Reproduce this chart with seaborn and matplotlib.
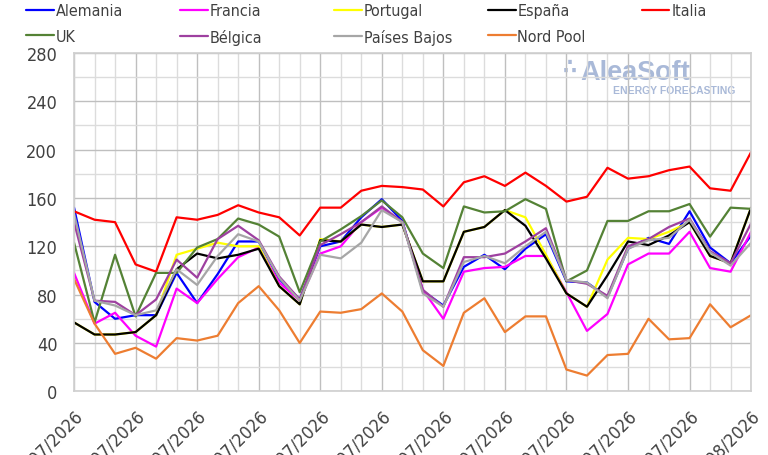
import pandas as pd
import matplotlib
matplotlib.use("Agg")
import matplotlib.pyplot as plt
import matplotlib.dates as mdates
from matplotlib import font_manager
from matplotlib.ticker import MultipleLocator
import seaborn as sns

# fechas diarias
dates = pd.date_range("2026-07-01", periods=34, freq="D")

alemania = [152, 74, 60, 63, 63, 98, 73, 97, 124, 124, 93, 76, 120, 124, 144, 159,
            141, 83, 71, 103, 113, 101, 118, 130, 91, 90, 78, 118, 127, 122, 149, 119, 106, 129]
francia = [98, 56, 65, 46, 37, 85, 73, 93, 111, 119, 90, 75, 114, 120, 140, 152,
           140, 84, 60, 99, 102, 103, 112, 112, 82, 50, 64, 105, 114, 114, 132, 102, 99, 132]
portugal = [57, 47, 47, 49, 63, 113, 118, 123, 120, 120, 87, 72, 126, 124, 138, 136,
            138, 91, 91, 132, 136, 150, 144, 113, 81, 70, 109, 127, 126, 132, 140, 112, 106, 152]
espana = [57, 47, 47, 49, 63, 101, 114, 110, 113, 118, 87, 72, 125, 124, 138, 136,
          138, 91, 91, 132, 136, 150, 137, 110, 81, 70, 96, 124, 121, 129, 140, 112, 106, 152]
italia = [149, 142, 140, 105, 99, 144, 142, 146, 154, 148, 144, 129, 152, 152, 166, 170,
          169, 167, 153, 173, 178, 170, 181, 170, 157, 161, 185, 176, 178, 183, 186, 168, 166, 198]
uk = [123, 57, 113, 62, 98, 98, 119, 126, 143, 138, 128, 82, 124, 134, 145, 158,
      144, 114, 102, 153, 148, 149, 159, 151, 91, 100, 141, 141, 149, 149, 155, 128, 152, 151]
belgica = [140, 75, 74, 63, 76, 109, 94, 126, 137, 125, 95, 76, 121, 130, 140, 153,
           140, 84, 70, 111, 111, 114, 124, 135, 92, 89, 79, 120, 126, 136, 143, 116, 106, 139]
paises_bajos = [147, 75, 71, 63, 67, 101, 88, 112, 130, 124, 94, 75, 113, 110, 123, 150,
                140, 81, 70, 107, 112, 106, 120, 132, 92, 90, 77, 118, 125, 127, 142, 115, 104, 123]
nord_pool = [93, 56, 31, 36, 27, 44, 42, 46, 73, 87, 67, 40, 66, 65, 68, 81,
             66, 34, 21, 65, 77, 49, 62, 62, 18, 13, 30, 31, 60, 43, 44, 72, 53, 63]

series = {
    "Alemania": alemania,
    "Francia": francia,
    "Portugal": portugal,
    "España": espana,
    "Italia": italia,
    "UK": uk,
    "Bélgica": belgica,
    "Países Bajos": paises_bajos,
    "Nord Pool": nord_pool,
}
colores = {
    "Alemania": "#0000ff",
    "Francia": "#ff00ff",
    "Portugal": "#ffff00",
    "España": "#000000",
    "Italia": "#ff0000",
    "UK": "#548235",
    "Bélgica": "#9e40a0",
    "Países Bajos": "#a6a6a6",
    "Nord Pool": "#ed7d31",
}

df = pd.DataFrame(series, index=dates).reset_index(names="fecha")
df = df.melt(id_vars="fecha", var_name="mercado", value_name="precio")

# buscar una fuente estrecha si existe
narrow = None
for f in font_manager.fontManager.ttflist:
    n = f.name.lower()
    if "narrow" in n or "condensed" in n:
        narrow = f.name
        break
    if str(f.stretch) in ("condensed", "semi-condensed", "extra-condensed") and f.weight in (400, "normal", "regular"):
        narrow = f
        break

sns.set_theme(style="white")
if isinstance(narrow, str):
    plt.rcParams["font.family"] = [narrow, "Liberation Sans", "DejaVu Sans"]
    fs_leg, fs_tick = 11.5, 13
elif narrow is not None:
    plt.rcParams["font.family"] = [narrow.name, "DejaVu Sans"]
    plt.rcParams["font.stretch"] = narrow.stretch
    fs_leg, fs_tick = 11.5, 13
else:
    plt.rcParams["font.family"] = ["Liberation Sans", "DejaVu Sans"]
    fs_leg, fs_tick = 10.5, 12

fig = plt.figure(figsize=(7.68, 4.56), dpi=100)
ax = fig.add_axes([0.0964, 0.1397, 0.8816, 0.7419])

sns.lineplot(data=df, x="fecha", y="precio", hue="mercado", palette=colores,
             hue_order=list(series.keys()), linewidth=1.6, ax=ax)

# leyenda: cinco columnas de ancho fijo, como en Excel
handles, labels = ax.get_legend_handles_labels()
ax.get_legend().remove()
for c in range(5):
    idx = [i for i in (c, c + 5) if i < len(labels)]
    fig.legend([handles[i] for i in idx], [labels[i] for i in idx],
               loc="upper left", bbox_to_anchor=((12 + c * 153.8) / 768, 1.022),
               frameon=False, fontsize=fs_leg, handlelength=1.74, handletextpad=0.12,
               labelspacing=0.66, labelcolor="#404040")

ax.set_xlim(dates[0], dates[-1])
ax.set_ylim(0, 280)
ax.yaxis.set_major_locator(MultipleLocator(40))
ax.yaxis.set_minor_locator(MultipleLocator(20))
ax.set_xticks(dates[::3])
ax.set_xticks(dates, minor=True)
ax.xaxis.set_major_formatter(mdates.DateFormatter("%d/%m/%Y"))

ax.grid(which="major", color="#bfbfbf", linewidth=1.0)
ax.grid(which="minor", color="#dcdcdc", linewidth=1.0)
ax.set_axisbelow(True)
for s in ax.spines.values():
    s.set_color("#d0d0d0")

ax.tick_params(axis="both", which="both", length=0, labelcolor="#404040", labelsize=fs_tick)
ax.tick_params(axis="y", pad=12)
ax.tick_params(axis="x", pad=10.5)
plt.setp(ax.get_xticklabels(), rotation=45, ha="right", rotation_mode="anchor")
ax.set_xlabel("")
ax.set_ylabel("")

# marca de agua
wm = "#a9b9d8"
ax.text(0.722, 0.94, "\u2234", transform=ax.transAxes, fontsize=16, color=wm,
        ha="left", va="baseline", fontweight="bold", family="DejaVu Sans", zorder=0.4)
ax.text(0.748, 0.922, "AleaSoft", transform=ax.transAxes, fontsize=19.5, color=wm,
        ha="left", va="baseline", fontweight="bold", family="Liberation Sans", zorder=0.4)
ax.text(0.977, 0.882, "ENERGY FORECASTING", transform=ax.transAxes, fontsize=7.5,
        color=wm, ha="right", va="baseline", fontweight="bold", family="Liberation Sans", zorder=0.4)

fig.savefig("out.png", dpi=100)
